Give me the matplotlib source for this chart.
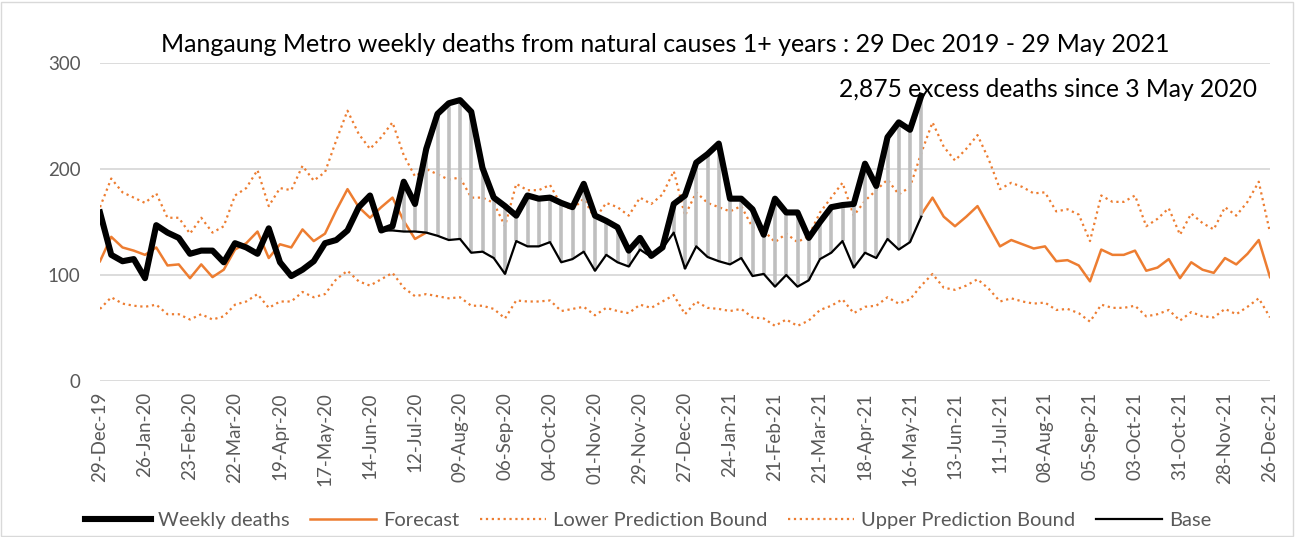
import numpy as np
from matplotlib import pyplot as plt
from matplotlib.patches import Rectangle

# weekly categories: 105 weeks from 29-Dec-19 to 26-Dec-21, labelled every 4th week
n_weeks = 105
tick_labels = ['29-Dec-19', '26-Jan-20', '23-Feb-20', '22-Mar-20', '19-Apr-20', '17-May-20', '14-Jun-20',
               '12-Jul-20', '09-Aug-20', '06-Sep-20', '04-Oct-20', '01-Nov-20', '29-Nov-20', '27-Dec-20',
               '24-Jan-21', '21-Feb-21', '21-Mar-21', '18-Apr-21', '16-May-21', '13-Jun-21', '11-Jul-21',
               '08-Aug-21', '05-Sep-21', '03-Oct-21', '31-Oct-21', '28-Nov-21', '26-Dec-21']

weekly_deaths = [159, 119, 113, 115, 97, 147, 140, 135, 120, 123, 123, 112, 130, 126, 120, 144, 112,
                 99, 105, 113, 130, 133, 142, 164, 175, 142, 146, 188, 167, 219, 252, 262, 265, 254,
                 201, 173, 165, 156, 175, 172, 173, 168, 164, 186, 156, 151, 145, 123, 135, 118, 126,
                 167, 175, 206, 214, 224, 172, 172, 162, 138, 172, 159, 159, 135, 150, 164, 166, 167,
                 205, 184, 230, 244, 237, 269]

forecast_start = [113, 136, 126, 123, 119, 126, 109, 110, 97, 110, 98, 105, 124, 130, 141, 116, 129,
                  126, 143, 132, 139, 161, 181, 164, 154, 164, 173, 151, 134, 140]
forecast_end = [157, 173, 155, 146, 155, 165, 146, 127, 133, 129, 125, 127, 113, 114, 109, 94, 124,
                119, 119, 123, 104, 107, 115, 97, 112, 105, 102, 116, 110, 120, 133, 98]

lower_bound = [68, 79, 73, 71, 70, 72, 63, 63, 58, 63, 58, 61, 72, 75, 82, 69, 75,
               75, 84, 79, 82, 96, 104, 94, 90, 96, 102, 88, 80, 82, 80, 78, 79, 71,
               71, 68, 59, 76, 75, 75, 76, 66, 68, 70, 62, 69, 66, 64, 72, 69, 75,
               81, 63, 75, 69, 68, 66, 68, 60, 59, 52, 58, 52, 57, 67, 71, 77, 64,
               70, 71, 79, 73, 77, 90, 101, 88, 86, 90, 96, 87, 75, 78, 75, 73, 74,
               67, 68, 64, 56, 72, 69, 69, 71, 61, 63, 67, 57, 65, 61, 60, 68, 63,
               70, 78, 60]
upper_bound = [164, 191, 178, 173, 168, 177, 154, 154, 139, 154, 140, 146, 175, 182, 199, 165, 182,
               180, 203, 189, 197, 227, 255, 233, 219, 230, 244, 213, 193, 200, 195, 190, 192, 173,
               173, 168, 146, 186, 180, 180, 185, 166, 162, 172, 153, 168, 164, 156, 173, 167, 176,
               198, 156, 178, 168, 164, 160, 165, 145, 142, 131, 139, 131, 137, 159, 173, 187, 156,
               170, 180, 190, 176, 183, 215, 244, 221, 208, 219, 232, 209, 181, 187, 183, 177, 178,
               160, 162, 157, 132, 175, 169, 169, 175, 146, 153, 163, 138, 158, 149, 143, 164, 156,
               169, 188, 140]

base_start = 25
base = [142, 142, 141, 141, 140, 137, 133, 134, 121, 122, 116, 101, 132, 127, 127, 131, 112,
        115, 122, 104, 119, 112, 108, 124, 117, 125, 140, 106, 127, 117, 113, 110, 116, 99,
        101, 89, 100, 89, 95, 115, 121, 132, 107, 121, 116, 134, 124, 131, 155]

excess_text = '2,875 excess deaths since 3 May 2020'
title = 'Mangaung Metro weekly deaths from natural causes 1+ years : 29 Dec 2019 - 29 May 2021'

plt.rcParams['font.family'] = ['Lato', 'DejaVu Sans']
orange = '#ED7D31'
grey_text = '#595959'

weeks = np.arange(n_weeks)
x_weekly = weeks[:len(weekly_deaths)]
x_fc_start = weeks[:len(forecast_start)]
x_fc_end = weeks[n_weeks - len(forecast_end):]
x_base = weeks[base_start:base_start + len(base)]

fig = plt.figure(figsize=(12.96, 5.37), dpi=100)
ax = fig.add_axes([100 / 1296, 1 - 381 / 537, 1170 / 1296, 318 / 537])

# grey high-low lines between base and weekly deaths
ax.vlines(x_base, base, np.array(weekly_deaths)[base_start:], color='#BFBFBF', lw=2.6, zorder=3)

ax.plot(weeks, lower_bound, ls=':', color=orange, lw=1.6, label='Lower Prediction Bound', zorder=2)
ax.plot(weeks, upper_bound, ls=':', color=orange, lw=1.6, label='Upper Prediction Bound', zorder=2)
ax.plot(x_fc_start, forecast_start, color=orange, lw=1.8, label='Forecast', zorder=2)
ax.plot(x_fc_end, forecast_end, color=orange, lw=1.8, zorder=2)
ax.plot(x_base, base, color='black', lw=1.6, label='Base', zorder=4)
ax.plot(x_weekly, weekly_deaths, color='black', lw=4.4, label='Weekly deaths',
        solid_joinstyle='round', zorder=5)

ax.set_xlim(0, n_weeks - 1)
ax.set_ylim(0, 300)
ax.set_yticks([0, 100, 200, 300])
ax.set_xticks(weeks[::4])
ax.set_xticklabels(tick_labels, rotation=90)
ax.tick_params(axis='both', length=0, colors=grey_text, labelsize=13.5)
ax.tick_params(axis='y', pad=14)
ax.tick_params(axis='x', pad=8)
ax.grid(axis='y', color='#D9D9D9', lw=1.3)
ax.set_axisbelow(True)
for spine in ax.spines.values():
    spine.set_visible(False)

fig.text(0.513, 1 - 45 / 537, title, ha='center', va='center', fontsize=18, color='black')
fig.text(1257 / 1296, 1 - 90 / 537, excess_text, ha='right', va='center', fontsize=17.7, color='black')

handles, labels = ax.get_legend_handles_labels()
order = ['Weekly deaths', 'Forecast', 'Lower Prediction Bound', 'Upper Prediction Bound', 'Base']
lookup = dict(zip(labels, handles))
fig.legend([lookup[k] for k in order], order, loc='center', bbox_to_anchor=(0.5, 0.03), ncol=5,
           frameon=False, fontsize=14.5, labelcolor=grey_text, handlelength=3.3, columnspacing=1.0,
           handletextpad=0.35)

fig.add_artist(Rectangle((0.001, 0.002), 0.997, 0.995, transform=fig.transFigure, fill=False,
                         edgecolor='#D9D9D9', lw=1))

plt.savefig('out.png')
plt.close()
